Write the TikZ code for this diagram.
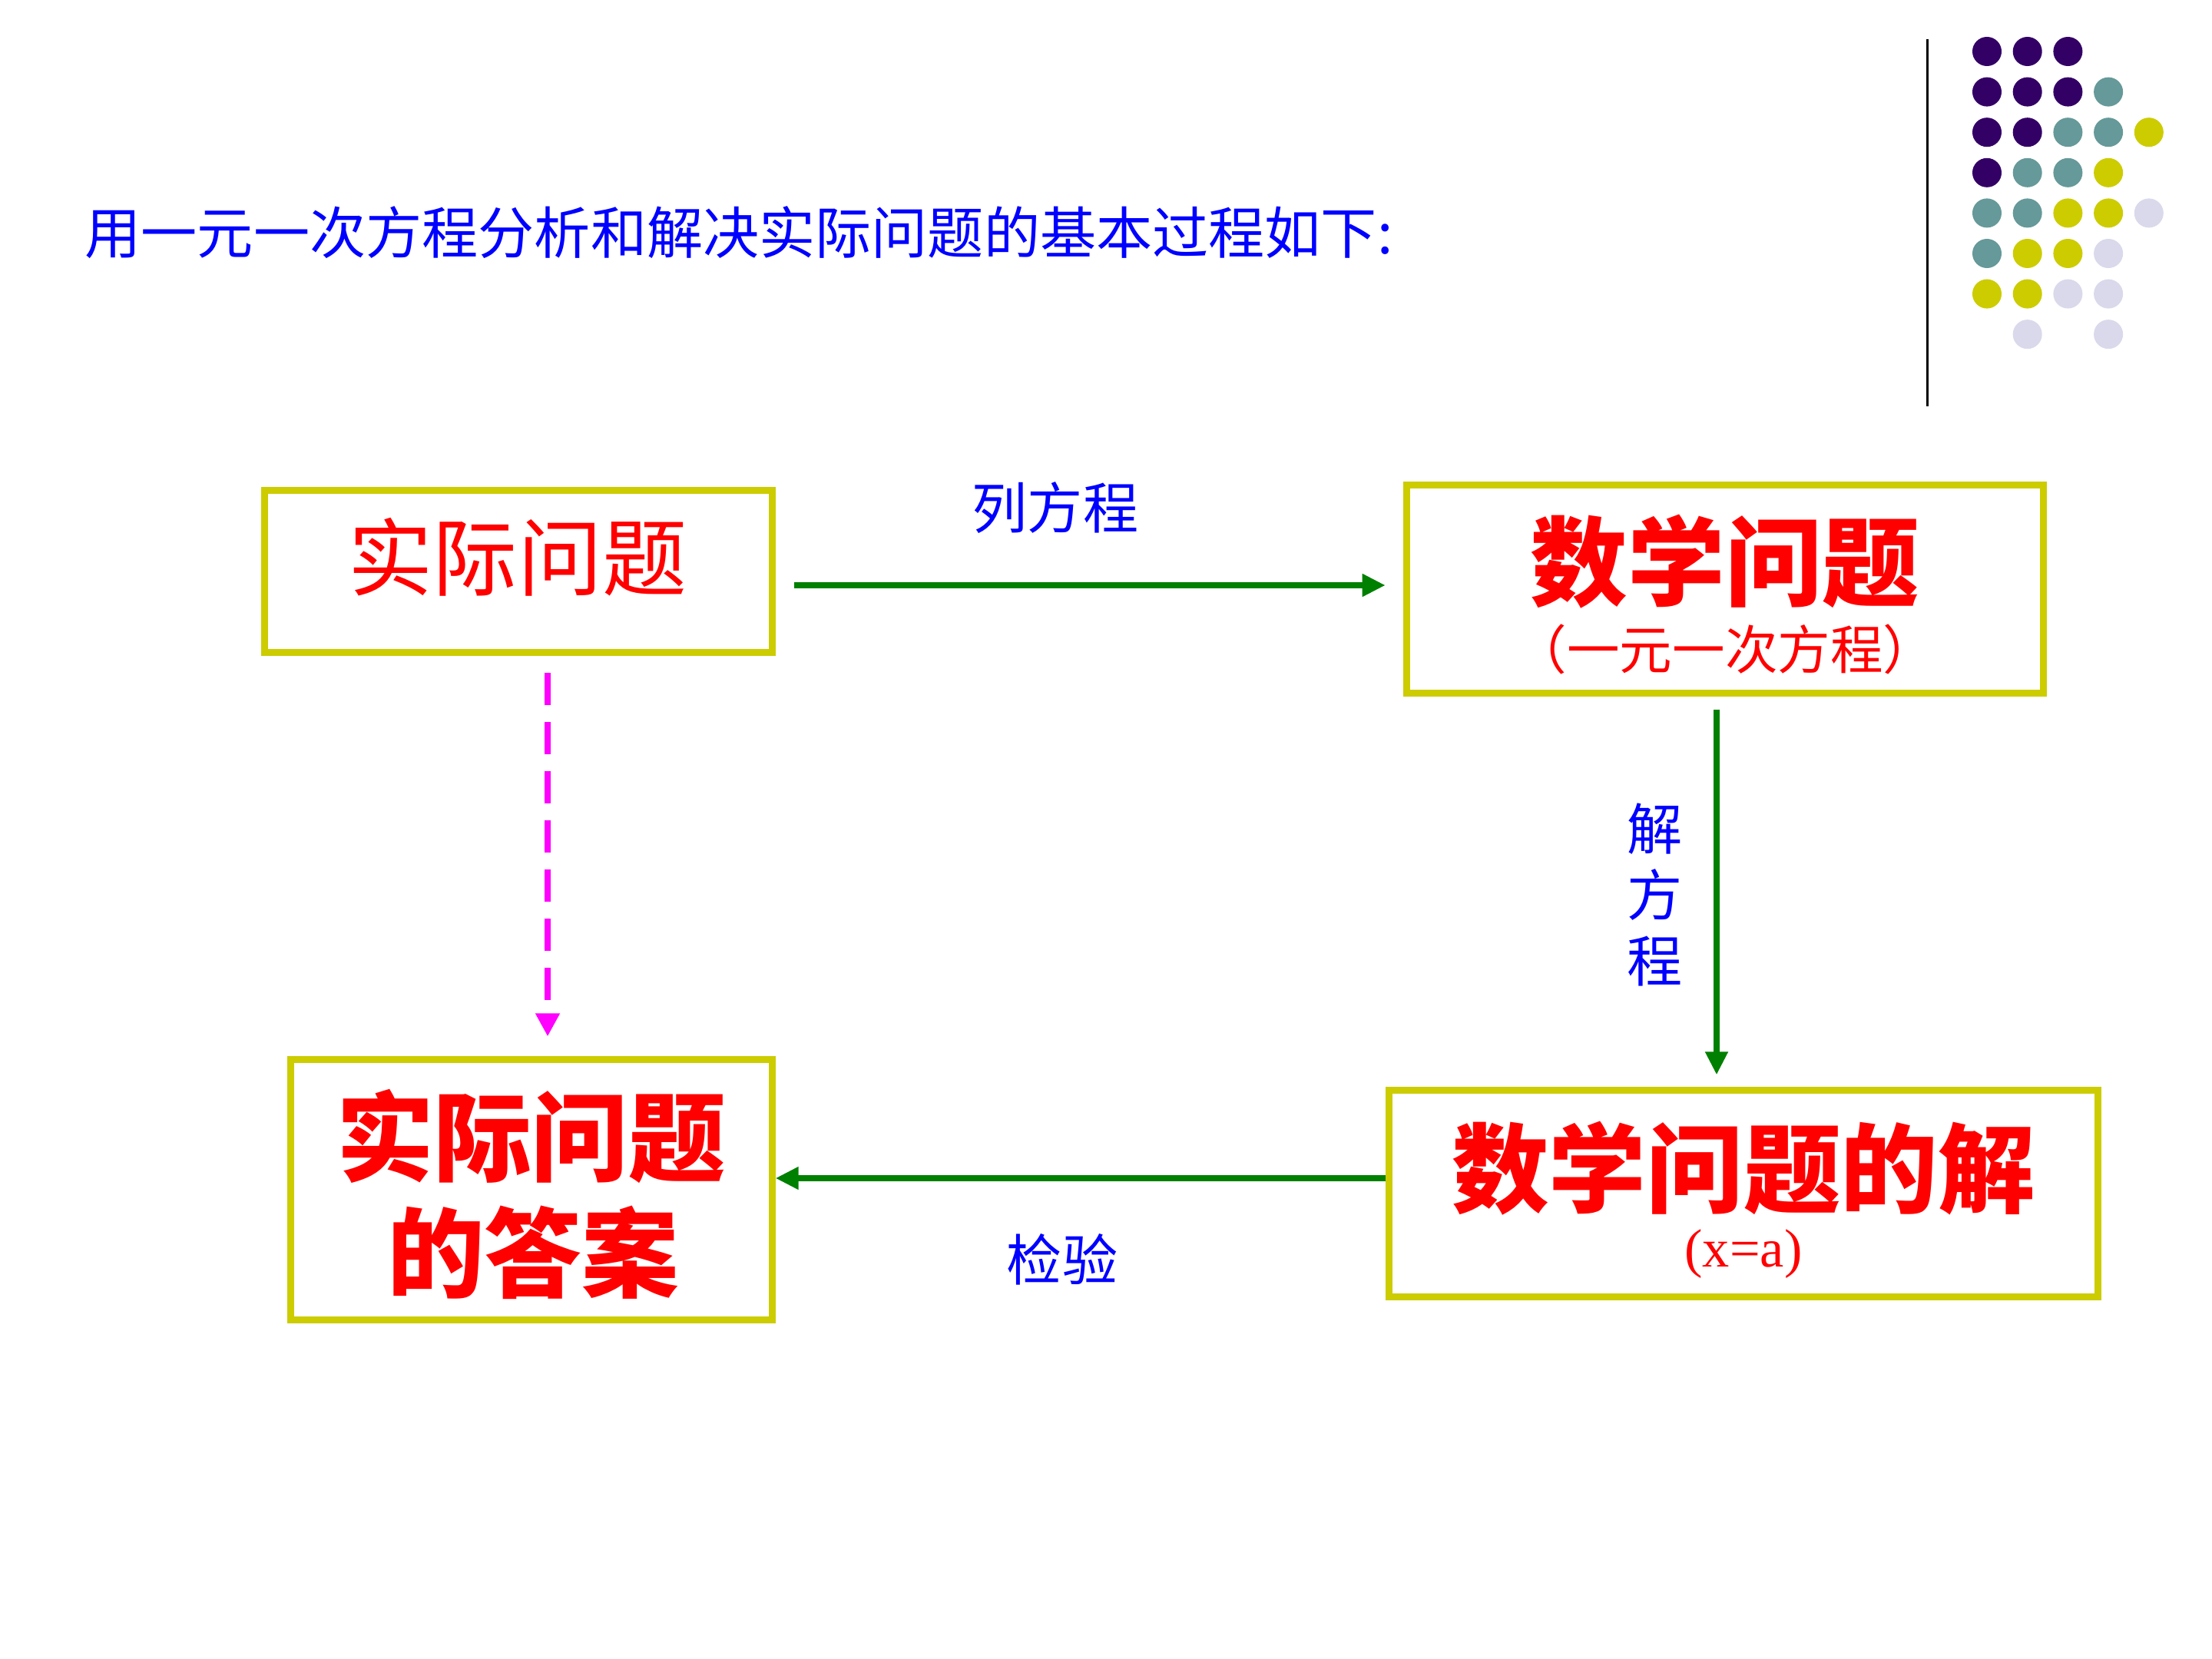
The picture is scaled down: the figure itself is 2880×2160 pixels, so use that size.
\documentclass[tikz,border=0pt]{standalone}
\usepackage{fontspec}
\newfontfamily\cjk{Noto Sans CJK SC}
\newfontfamily\tnr{Liberation Serif}
\usetikzlibrary{arrows.meta}
\definecolor{boxyellow}{RGB}{204,204,0}
\definecolor{arrgreen}{RGB}{0,128,0}
\definecolor{dotpurple}{RGB}{51,0,102}
\definecolor{dotteal}{RGB}{102,153,153}
\definecolor{dotyellow}{RGB}{204,204,0}
\definecolor{dotlav}{RGB}{217,217,235}
\definecolor{tblue}{RGB}{0,0,255}
\definecolor{tred}{RGB}{255,0,0}
\definecolor{mag}{RGB}{255,0,255}
\tikzset{
  box/.style={draw=boxyellow, line width=0.09cm, inner sep=0pt},
  redthin/.style={inner sep=0pt, text=tred, font=\cjk\fontsize{31.3pt}{36pt}\selectfont},
  redbig/.style={inner sep=0pt, text=tred, font=\cjk\bfseries\fontsize{36pt}{42pt}\selectfont},
  redsmall/.style={inner sep=0pt, text=tred, font=\cjk\fontsize{19.5pt}{22pt}\selectfont},
  bluelab/.style={inner sep=0pt, text=tblue, font=\cjk\fontsize{20.5pt}{24.5pt}\selectfont},
  garrow/.style={draw=arrgreen, line width=0.08cm, -{Triangle[length=0.3cm,width=0.28cm]}},
  marrow/.style={draw=mag, line width=0.08cm, dash pattern=on 0.42cm off 0.22cm, -{Triangle[length=0.3cm,width=0.3cm]}},
}
\begin{document}
\begin{tikzpicture}[x=0.01cm, y=-0.01cm]
\useasboundingbox[fill=white] (0,0) rectangle (2880,2160);

% decoration: vertical line and dot grid
\draw[line width=0.03cm, black] (2509,51) -- (2509,529);
\foreach \c/\r/\col in {0/0/dotpurple,1/0/dotpurple,2/0/dotpurple,
  0/1/dotpurple,1/1/dotpurple,2/1/dotpurple,3/1/dotteal,
  0/2/dotpurple,1/2/dotpurple,2/2/dotteal,3/2/dotteal,4/2/dotyellow,
  0/3/dotpurple,1/3/dotteal,2/3/dotteal,3/3/dotyellow,
  0/4/dotteal,1/4/dotteal,2/4/dotyellow,3/4/dotyellow,4/4/dotlav,
  0/5/dotteal,1/5/dotyellow,2/5/dotyellow,3/5/dotlav,
  0/6/dotyellow,1/6/dotyellow,2/6/dotlav,3/6/dotlav,
  1/7/dotlav,3/7/dotlav}
  \fill[\col] ({2587+52.7*\c},{67+52.6*\r}) circle (0.19cm);

% title
\node[inner sep=0pt, anchor=west, text=tblue, font=\cjk\fontsize{20.8pt}{24pt}\selectfont] (title) at (110,303)
  {用一元一次方程分析和解决实际问题的基本过程如下:};

% boxes
\node[box, minimum width=6.61cm, minimum height=2.11cm] (b1) at (675,744) {};
\node[box, minimum width=8.29cm, minimum height=2.70cm] (b2) at (2246,767) {};
\node[box, minimum width=9.22cm, minimum height=2.68cm] (b3) at (2270,1554) {};
\node[box, minimum width=6.26cm, minimum height=3.38cm] (b4) at (692,1549) {};

% box texts
\node[redthin] (t1) at (674,725) {实际问题};
\node[redbig] (t2) at (2246,731) {数学问题};
\node[redsmall] (t2s) at (2246,845) {（一元一次方程）};
\node[redbig] (t3) at (2270,1521) {数学问题的解};
\node[inner sep=0pt, text=tred, font=\tnr\fontsize{20pt}{24pt}\selectfont] (t3s) at (2270,1633) {(x=a)};
\node[redbig] (t4a) at (692,1479) {实际问题};
\node[redbig] (t4b) at (694,1631) {的答案};

% connector labels
\node[bluelab] (l1) at (1374,661) {列方程};
\node[bluelab, align=center] (l2) at (2155,1165) {解\\方\\程};
\node[bluelab] (l3) at (1383,1640) {检验};

% connectors
\draw[garrow, shorten <=0.24cm, shorten >=0.23cm] ([yshift=0.05cm]b2.west -| b1.east) -- ([yshift=0.05cm]b2.west);
\draw[garrow, shorten <=0.17cm, shorten >=0.16cm] ([xshift=-0.11cm]b2.south) -- ([xshift=-0.11cm]b2.south |- b3.north);
\draw[garrow] ([yshift=0.2cm]b3.west) -- ([yshift=0.2cm]b3.west -| b4.east);
\draw[marrow, shorten <=0.22cm, shorten >=0.26cm] ([xshift=0.38cm]b1.south) -- ([xshift=0.38cm]b1.south |- b4.north);
\end{tikzpicture}
\end{document}
